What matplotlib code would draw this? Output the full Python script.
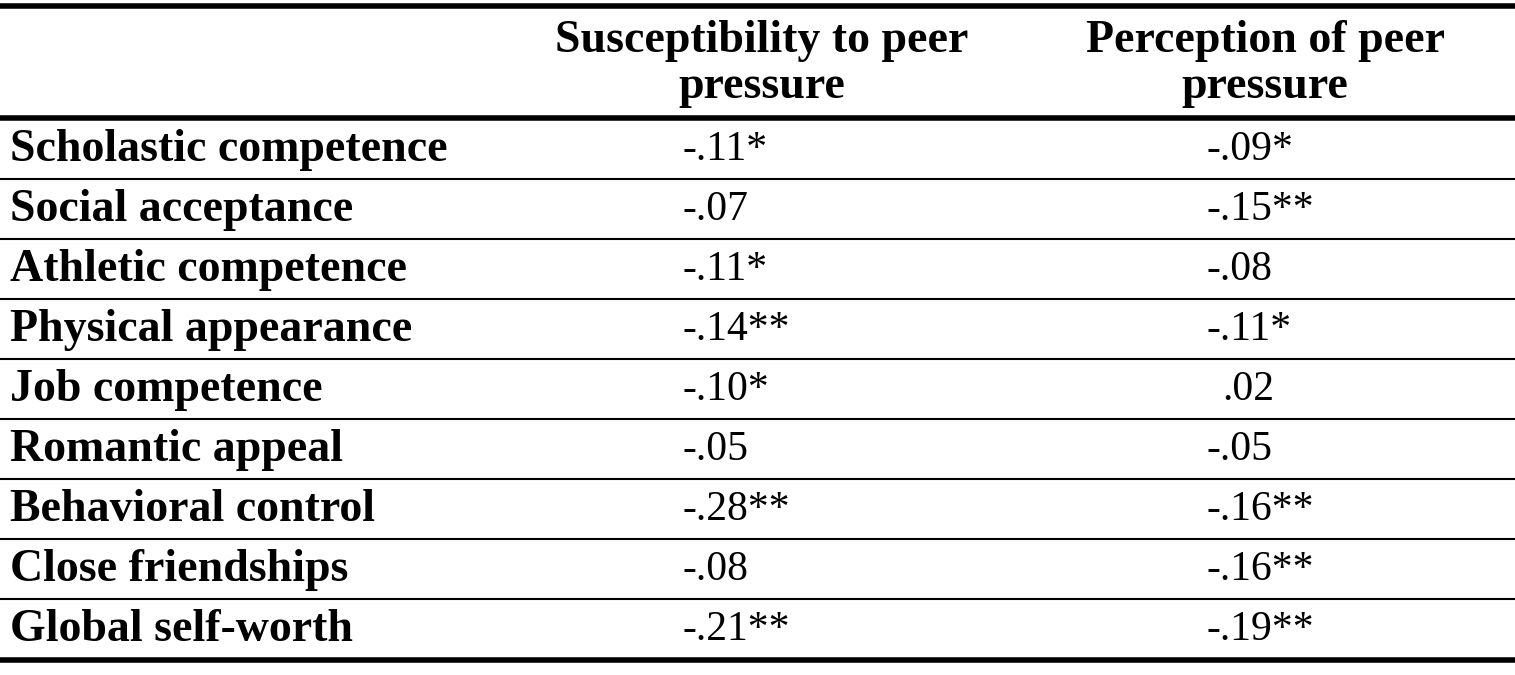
import matplotlib.pyplot as plt

rows = ["Scholastic competence", "Social acceptance", "Athletic competence",
        "Physical appearance", "Job competence", "Romantic appeal",
        "Behavioral control", "Close friendships", "Global self-worth"]
susceptibility = ["-.11*", "-.07", "-.11*", "-.14**", "-.10*", "-.05", "-.28**", "-.08", "-.21**"]
perception = ["-.09*", "-.15**", "-.08", "-.11*", ".02", "-.05", "-.16**", "-.16**", "-.19**"]
headers = ["Susceptibility to peer\npressure", "Perception of peer\npressure"]

W, H = 1515, 675
fig = plt.figure(figsize=(W / 100, H / 100), dpi=100)
ax = fig.add_axes([0, 0, 1, 1])
ax.set_xlim(0, W)
ax.set_ylim(H, 0)
ax.axis('off')

bold = dict(family='Liberation Serif', fontsize=33, fontweight='bold')
plain = dict(family='Liberation Serif', fontsize=30)

# rules
ax.plot([0, W], [6, 6], color='black', lw=4)
ax.plot([0, W], [118, 118], color='black', lw=4)
ax.plot([0, W], [660, 660], color='black', lw=4)

ax.text(762, 64, headers[0], ha='center', va='center', linespacing=1.1, **bold)
ax.text(1265, 64, headers[1], ha='center', va='center', linespacing=1.1, **bold)

row_h = 60
for i, name in enumerate(rows):
    yc = 150 + i * row_h
    ax.text(10, yc, name, ha='left', va='center', **bold)
    ax.text(683, yc, susceptibility[i], ha='left', va='center', **plain)
    x3 = 1222 if perception[i].startswith('.') else 1207
    ax.text(x3, yc, perception[i], ha='left', va='center', **plain)
    if i < len(rows) - 1:
        ax.plot([0, W], [149 + i * row_h + 30, 149 + i * row_h + 30], color='black', lw=1.5)

fig.savefig('out.png', dpi=100)
